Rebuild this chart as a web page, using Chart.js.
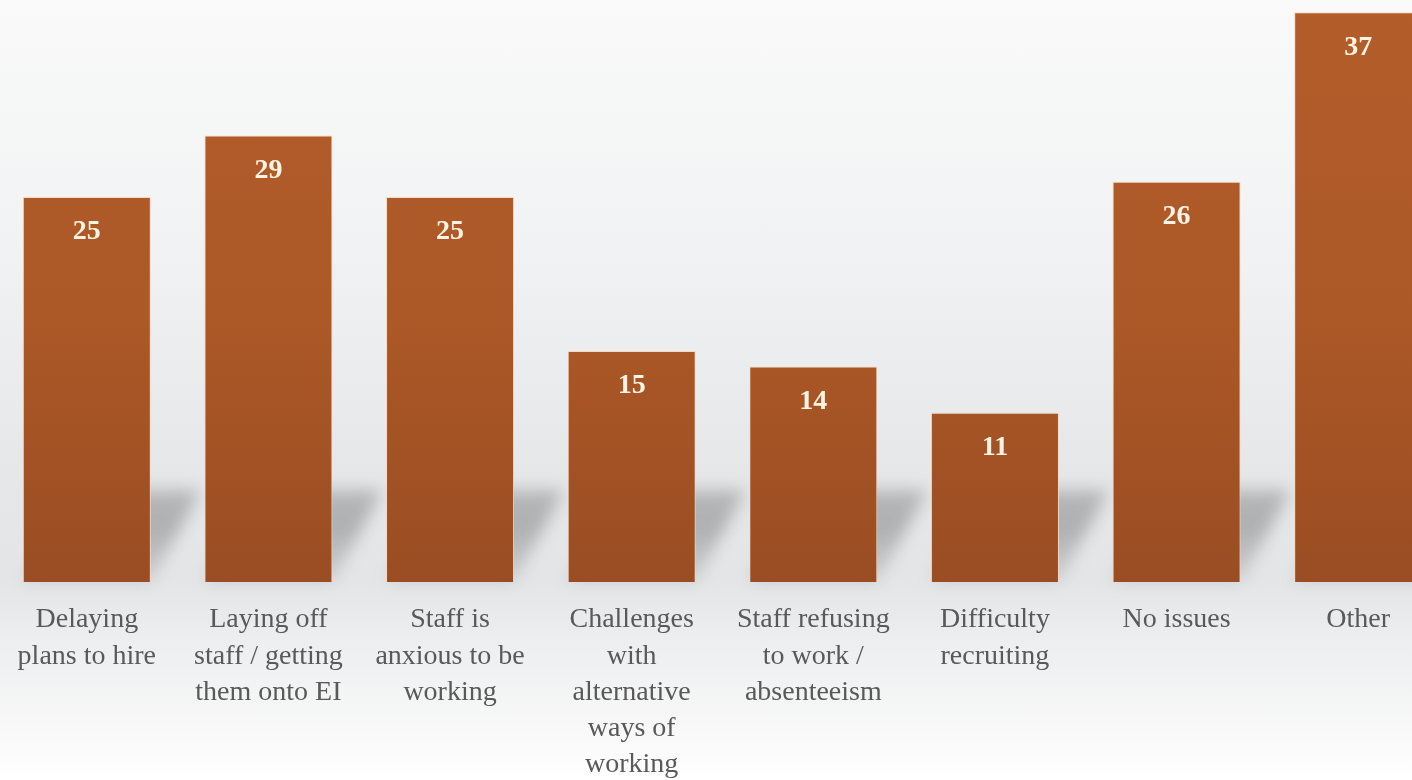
<!DOCTYPE html>
<html>
<head>
<meta charset="utf-8">
<script src="https://cdn.jsdelivr.net/npm/chart.js@4"></script>
<style>
  html, body {
    margin: 0;
    width: 1412px;
    height: 780px;
    overflow: hidden;
    background: linear-gradient(to bottom,
      #fafafa 0px, #f1f2f3 250px, #e6e7e9 470px, #e3e5e7 580px,
      #eceeef 640px, #f7f7f7 720px, #ffffff 780px);
  }
  #wrap {
    position: absolute;
    left: -4px;
    top: 0;
    width: 1453px;
    height: 780px;
  }
</style>
</head>
<body>
<div id="wrap"><canvas id="chart"></canvas></div>
<script>
// Categories (wrapped the way the axis shows them) and counts
const categories = [
  ['Delaying', 'plans to hire'],
  ['Laying off', 'staff / getting', 'them onto EI'],
  ['Staff is', 'anxious to be', 'working'],
  ['Challenges', 'with', 'alternative', 'ways of', 'working'],
  ['Staff refusing', 'to work /', 'absenteeism'],
  ['Difficulty', 'recruiting'],
  ['No issues'],
  ['Other'],
];
const counts = [25, 29, 25, 15, 14, 11, 26, 37];

const SERIF = '"Liberation Serif", "DejaVu Serif", serif';

// Soft diagonal floor shadow behind every bar
const floorShadow = {
  id: 'floorShadow',
  beforeDatasetsDraw(chart) {
    const { ctx } = chart;
    const meta = chart.getDatasetMeta(0);
    ctx.save();
    ctx.filter = 'blur(8px)';
    for (const bar of meta.data) {
      const { x, width, base } = bar.getProps(['x', 'width', 'base'], true);
      const l = x - width / 2, r = x + width / 2;
      const g = ctx.createLinearGradient(0, base, 0, base - 92);
      g.addColorStop(0, 'rgba(110,110,112,0.18)');
      g.addColorStop(0.6, 'rgba(100,100,102,0.42)');
      g.addColorStop(1, 'rgba(100,100,102,0.36)');
      ctx.fillStyle = g;
      ctx.beginPath();
      ctx.moveTo(l, base);
      ctx.lineTo(r, base);
      ctx.lineTo(r + 50, base - 92);
      ctx.lineTo(l + 50, base - 92);
      ctx.closePath();
      ctx.fill();
    }
    ctx.restore();
  },
};

// Value printed near the top of each bar
const valueLabels = {
  id: 'valueLabels',
  afterDatasetsDraw(chart) {
    const { ctx } = chart;
    const meta = chart.getDatasetMeta(0);
    ctx.save();
    ctx.font = 'bold 28px ' + SERIF;
    ctx.fillStyle = '#fff4e4';
    ctx.textAlign = 'center';
    ctx.textBaseline = 'middle';
    meta.data.forEach((bar, i) => {
      const { x, y } = bar.getProps(['x', 'y'], true);
      ctx.fillText(String(counts[i]), x, y + 35);
    });
    ctx.restore();
  },
};

function barFill(context) {
  const { ctx, chartArea } = context.chart;
  if (!chartArea) return '#ab5827';
  const g = ctx.createLinearGradient(0, chartArea.top, 0, chartArea.bottom);
  g.addColorStop(0, '#b35d2a');
  g.addColorStop(0.55, '#ac5827');
  g.addColorStop(1, '#9a4d23');
  return g;
}

new Chart(document.getElementById('chart'), {
  type: 'bar',
  data: {
    labels: categories,
    datasets: [{
      data: counts,
      backgroundColor: barFill,
      borderColor: 'rgba(250,214,186,0.9)',
      borderWidth: 1,
      barPercentage: 0.705,
      categoryPercentage: 1,
    }],
  },
  options: {
    responsive: true,
    maintainAspectRatio: false,
    animation: false,
    layout: { padding: 0 },
    plugins: {
      legend: { display: false },
      tooltip: { enabled: false },
    },
    scales: {
      x: {
        grid: { display: false, drawTicks: false },
        border: { display: false },
        ticks: {
          color: '#595959',
          font: { family: SERIF, size: 28, lineHeight: 1.29 },
          padding: 20,
          maxRotation: 0,
          autoSkip: false,
        },
        afterFit(scale) { scale.height = 198; },
      },
      y: {
        display: false,
        min: 0,
        max: 37.8,
      },
    },
  },
  plugins: [floorShadow, valueLabels],
});
</script>
</body>
</html>
